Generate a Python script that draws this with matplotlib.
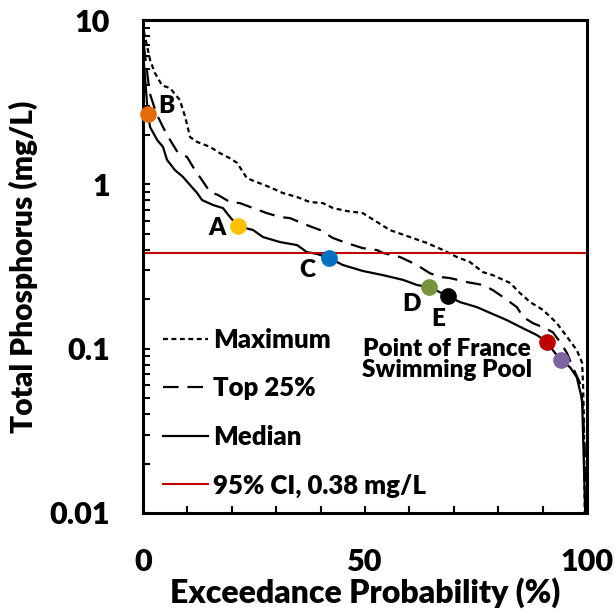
import matplotlib
matplotlib.use("Agg")
import matplotlib.pyplot as plt
from matplotlib.lines import Line2D
from matplotlib.ticker import LogLocator, MultipleLocator, FixedLocator, NullFormatter

plt.rcParams['font.family'] = ['Lato', 'DejaVu Sans']
plt.rcParams['font.weight'] = 'bold'

# ---- data (exceedance probability %, total phosphorus mg/L) ----
max_p = [0.2, 1.6, 2.7, 4.3, 6.1, 8.3, 9.5, 10.6, 12.2, 15.1, 17.3, 19.6, 21.2, 23.4, 25.7, 28.6,
         31.5, 34.7, 37.6, 40.5, 42.8, 45.9, 49.5, 52.7, 55.6, 60.1, 64.0, 67.6, 70.7, 73.6, 76.6,
         78.8, 82.7, 84.9, 87.2, 90.1, 93.2, 95.5, 97.7, 98.9, 99.1, 99.3, 99.5]
max_v = [8.5, 5.7, 4.75, 4.0, 3.85, 3.26, 2.57, 1.94, 1.81, 1.69, 1.55, 1.44, 1.35, 1.09, 1.03, 0.96,
         0.885, 0.837, 0.78, 0.769, 0.717, 0.688, 0.668, 0.59, 0.527, 0.478, 0.439, 0.398, 0.361, 0.337, 0.292,
         0.28, 0.251, 0.218, 0.192, 0.172, 0.143, 0.118, 0.098, 0.082, 0.062, 0.038, 0.01]

top_p = [0.2, 1.5, 3.0, 4.5, 6.1, 7.9, 9.9, 11.7, 13.3, 15.1, 16.9, 19.6, 21.8, 24.8, 27.9, 30.9,
         33.1, 36.9, 39.9, 42.8, 45.9, 49.5, 52.7, 54.1, 57.9, 61.7, 64.6, 66.9, 69.1, 73.0, 76.6,
         78.8, 81.1, 84.2, 85.6, 87.8, 90.1, 92.3, 93.9, 95.5, 96.8, 98.4, 99.1, 99.5, 99.6]
top_v = [7.0, 3.6, 2.7, 2.23, 1.86, 1.55, 1.47, 1.22, 1.06, 0.898, 0.861, 0.78, 0.769, 0.717, 0.668, 0.632,
         0.623, 0.565, 0.527, 0.471, 0.439, 0.409, 0.398, 0.382, 0.361, 0.323, 0.288, 0.273, 0.269, 0.254, 0.244,
         0.227, 0.206, 0.179, 0.156, 0.143, 0.135, 0.126, 0.11, 0.094, 0.077, 0.062, 0.042, 0.024, 0.01]

med_p = [0.2, 1.1, 1.6, 3.2, 4.5, 5.4, 7.2, 9.0, 10.6, 12.2, 13.3, 15.8, 18.0, 19.6, 21.4, 24.8, 27.0,
         30.9, 34.7, 36.9, 39.2, 41.9, 45.0, 49.5, 54.1, 58.6, 61.7, 64.4, 68.7, 71.4, 75.2, 78.2,
         82.0, 85.6, 88.7, 91.0, 92.3, 94.1, 96.2, 97.7, 98.9, 99.1, 99.6]
med_v = [5.5, 2.68, 2.23, 1.86, 1.69, 1.41, 1.22, 1.11, 0.99, 0.885, 0.802, 0.748, 0.717, 0.632, 0.557, 0.527, 0.478,
         0.445, 0.427, 0.387, 0.377, 0.356, 0.323, 0.297, 0.28, 0.262, 0.244, 0.237, 0.209, 0.192, 0.179, 0.165,
         0.149, 0.133, 0.121, 0.11, 0.098, 0.085, 0.077, 0.067, 0.049, 0.031, 0.01]

ci_value = 0.38

site_names = ['B', 'A', 'C', 'D', 'E', 'Point of France', 'Swimming Pool']
site_p = [1.1, 21.4, 41.9, 64.5, 68.6, 90.9, 94.1]
site_v = [2.68, 0.557, 0.357, 0.236, 0.21, 0.110, 0.0853]
site_colors = ['#E36C09', '#FFC000', '#0070C0', '#77933C', '#000000', '#C00000', '#8064A2']

legend_labels = ['Maximum', 'Top 25%', 'Median', '95% CI, 0.38 mg/L']

# ---- figure ----
fig = plt.figure(figsize=(6.16, 6.16), dpi=100)
ax = fig.add_axes([143/616, 1-513/616, (587-143)/616, (513-20)/616])

lw = 1.6
ax.plot(max_p, max_v, color='black', lw=lw, linestyle=(0, (2.2, 1.6)))
ax.plot(top_p, top_v, color='black', lw=lw, linestyle=(0, (7, 4)))
ax.plot(med_p, med_v, color='black', lw=lw, linestyle='-')
ax.axhline(ci_value, color='#C00000', lw=1.5)

for p, v, c in zip(site_p, site_v, site_colors):
    ax.plot([p], [v], marker='o', ms=11, color=c, mec=c, zorder=5, clip_on=False)

fs_lab = 17.5
fw = 'heavy'
ax.text(site_p[0] + 2.3, site_v[0] * 1.12, 'B', fontsize=fs_lab, fontweight=fw, ha='left', va='center')
ax.text(site_p[1] - 2.8, site_v[1] * 0.97, 'A', fontsize=fs_lab, fontweight=fw, ha='right', va='center')
ax.text(site_p[2] - 5.0, site_v[2] * 0.84, 'C', fontsize=fs_lab, fontweight=fw, ha='center', va='center')
ax.text(site_p[3] - 4.0, site_v[3] * 0.79, 'D', fontsize=fs_lab, fontweight=fw, ha='center', va='center')
ax.text(site_p[4] - 2.2, site_v[4] * 0.72, 'E', fontsize=fs_lab, fontweight=fw, ha='center', va='center')
ax.text(68.5, 0.0855, 'Point of France\nSwimming Pool', fontsize=fs_lab, fontweight=fw,
        ha='center', va='center', linespacing=0.95)

ax.set_yscale('log')
ax.set_xlim(0, 100)
ax.set_ylim(0.01, 10)

ax.xaxis.set_major_locator(FixedLocator([0, 50, 100]))
ax.xaxis.set_minor_locator(MultipleLocator(10))
ax.yaxis.set_major_locator(FixedLocator([0.01, 0.1, 1, 10]))
ax.yaxis.set_minor_locator(LogLocator(base=10, subs=range(2, 10)))
ax.yaxis.set_minor_formatter(NullFormatter())
ax.set_yticklabels(['0.01', '0.1', '1', '10'])
ax.set_xticklabels(['0', '50', '100'])

ax.tick_params(axis='both', which='both', direction='in', width=1.5, length=5, labelsize=22)
ax.tick_params(axis='x', which='both', pad=25)
ax.tick_params(axis='y', which='both', pad=24)
for lab in ax.get_xticklabels() + ax.get_yticklabels():
    lab.set_fontweight(fw)

for s in ax.spines.values():
    s.set_linewidth(2.2)

ax.set_xlabel('Exceedance Probability (%)', fontsize=23, fontweight=fw, labelpad=1)
ax.set_ylabel('Total Phosphorus (mg/L)', fontsize=21.5, fontweight=fw, labelpad=8)

handles = [Line2D([], [], color='black', lw=lw, linestyle=(0, (2.2, 1.6))),
           Line2D([], [], color='black', lw=lw, linestyle=(0, (7, 4))),
           Line2D([], [], color='black', lw=lw, linestyle='-'),
           Line2D([], [], color='#C00000', lw=1.5)]
leg = ax.legend(handles, legend_labels, loc='upper left', bbox_to_anchor=(163/616, 1-328/616),
                bbox_transform=fig.transFigure, frameon=False, fontsize=18.5, handlelength=1.75,
                handletextpad=0.2, labelspacing=0.95, borderpad=0, borderaxespad=0)
for t in leg.get_texts():
    t.set_fontweight(fw)

fig.savefig('out.png', dpi=100)
